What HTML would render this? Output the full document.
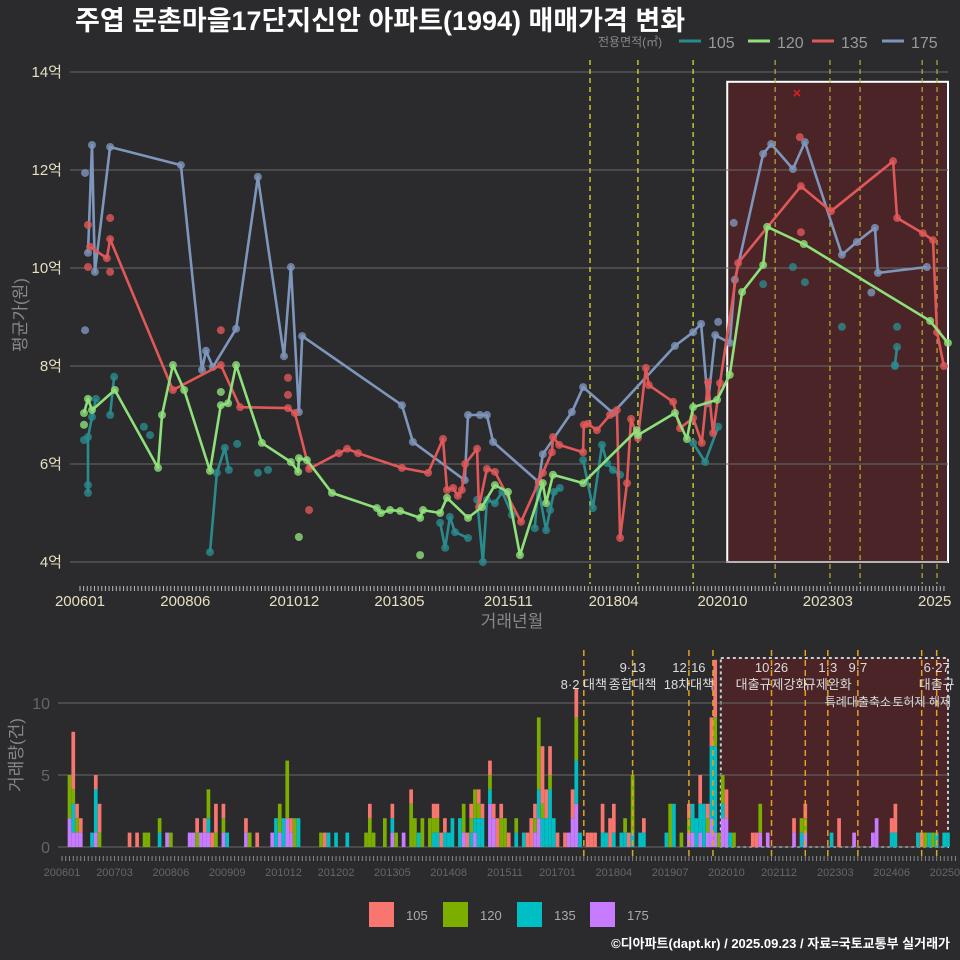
<!DOCTYPE html>
<html><head><meta charset="utf-8">
<style>
html,body{margin:0;padding:0;background:#2b2b2d;}
svg{display:block;font-family:"Liberation Sans","Noto Sans CJK KR",sans-serif;}
</style></head>
<body>
<svg id="chart" width="960" height="960" viewBox="0 0 960 960">
<rect x="0" y="0" width="960" height="960" fill="#2b2b2d"/>
<text x="75" y="30" font-size="27" font-weight="bold" fill="#ffffff">주엽 문촌마을17단지신안 아파트(1994) 매매가격 변화</text>
<g id="topLegend">
<text x="598" y="46" font-size="12" fill="#888">전용면적(㎡)</text>
</g>
<g id="topPanel"></g>
<g id="bottomPanel"></g>
<text transform="translate(26,315) rotate(-90)" text-anchor="middle" font-size="17" fill="#888">평균가(원)</text>
<text x="512" y="627" text-anchor="middle" font-size="17" fill="#888">거래년월</text>
<text transform="translate(22,755) rotate(-90)" text-anchor="middle" font-size="17" fill="#888">거래량(건)</text>
<g id="botLegend"></g>
<text x="950" y="948" text-anchor="end" font-size="13" font-weight="bold" fill="#ffffff">©디아파트(dapt.kr) / 2025.09.23 / 자료=국토교통부 실거래가</text>
</svg>
<script>
const m175 = [2.2,3.3,4.1,8.3,27.8,33.6,34.7,36.6,43,49,56.2,58.1,60.3,61.2,88.7,91.7,106,106.9,110.2,112.1,113.8,126.4,127.5,135.5,138.6,146.8,163.9,168.9,171.1,173,175,179,180.4,188.2,190.4,196.4,199.7,209.9,214,219,219.8,233.3];
const v175 = [10.31,12.51,9.92,12.47,12.10,7.92,8.31,7.98,8.76,11.86,8.20,10.02,7.06,8.61,7.20,6.45,5.67,7.00,7.00,7.00,6.45,5.63,6.20,7.06,7.57,7.04,8.41,8.69,8.86,7.24,8.63,8.47,9.76,12.33,12.53,12.02,12.57,10.27,10.53,10.82,9.90,10.02];
const m135 = [2.8,7.4,8.3,25.6,38.8,44.1,57.3,59.2,63.1,71.3,73.6,76.6,88.7,95.9,100,101.1,102.8,104.1,105.2,106.1,109.4,109.9,112.1,114.3,121.5,126.4,127.5,130,130.3,132,138.6,138.8,139.9,142.4,146,147.9,148.8,150.7,151.8,153.7,155.9,156.7,163.4,165.3,168.9,171.3,173,174.4,176.3,181.3,198.6,206.9,224,225.1,232.2,235,236.1,238];
const v135 = [10.43,10.20,10.59,7.51,8.02,7.16,7.14,7.04,5.90,6.22,6.31,6.22,5.92,5.82,6.51,5.47,5.51,5.35,5.47,6.00,6.31,5.12,5.90,5.84,4.82,5.63,5.82,6.24,6.55,6.39,6.24,6.80,6.82,6.69,7.00,7.10,4.49,5.61,6.92,6.53,7.96,7.61,7.27,6.73,6.94,6.43,7.67,6.63,7.65,10.10,11.67,11.16,12.18,11.02,10.71,10.57,8.69,8.00];
const m120 = [1.1,2.2,3.3,9.6,21.5,22.6,25.6,28.7,35.8,38.8,40.8,43,50.1,58.1,60.1,60.3,62.5,69.4,81.8,82.9,85.4,88.2,93.7,94.5,99.2,101.1,106.9,110.7,114.3,117.9,121.2,127.5,128.4,130.3,138.6,153.4,153.7,163.9,167.2,168.9,175.5,179,182.4,188.2,189.3,199.4,234.2,239.1];
const v120 = [7.04,7.33,7.10,7.51,5.92,7.00,8.02,7.51,5.86,7.20,7.24,8.02,6.43,6.04,5.84,6.12,6.08,5.41,5.10,5.00,5.06,5.04,4.90,5.06,5.00,5.31,4.90,5.12,5.57,5.43,4.14,5.61,5.20,5.78,5.61,6.69,6.59,7.04,6.51,7.16,7.31,7.82,9.51,10.06,10.84,10.49,8.92,8.47];
const m105 = [2.2,2.2,3.3,4.4,null,8.3,9.4,null,35.8,37.7,39.9,41,null,99.2,100.6,101.9,103.3,106.9,null,109.4,111,112.1,114.3,116.3,119,null,125.3,126.2,128.4,129.5,130.6,132.2,null,138.6,141.3,143.8,145.2,146.8,148.8,null,168.9,172.2,175.8,null,224.5,225.1];
const v105 = [5.41,6.55,6.96,7.33,null,7.00,7.78,null,4.20,5.82,6.33,5.88,null,4.80,4.29,4.92,4.61,4.49,null,5.27,4.00,5.27,5.20,5.43,4.96,null,4.69,5.53,4.65,5.06,5.43,5.51,null,6.08,5.10,6.39,6.02,5.88,5.78,null,6.43,6.04,6.76,null,8.02,8.39];
const pm175 = [1.4,1.4,180.1,175.8,218];
const pv175 = [11.94,8.73,10.92,8.90,9.50];
const pm135 = [2.2,2.2,8.3,8.3,38.8,57.3,57.3,63.1,198.6,198.3];
const pv135 = [10.88,10.02,11.02,9.92,8.73,7.76,7.41,5.06,10.73,12.67];
const pm120 = [1.1,38.8,60.3,93.7];
const pv120 = [6.80,7.47,4.51,4.14];
const pm105 = [1.1,2.2,17.6,19.3,49,51.8,43.3,196.4,199.7,209.9,225.1,188.2,224.5];
const pv105 = [6.49,5.57,6.76,6.59,5.82,5.88,6.41,10.02,9.71,8.80,8.80,9.67,8.0];
const outlierM = [197.5];
const outlierV = [13.57];
const yTicks = [4,6,8,10,12,14];
const yTickLabels = ['4억','6억','8억','10억','12억','14억'];
const xTickMonths = [0,29,59,88,118,147,177,206];
const xTickLabels = ['200601','200806','201012','201305','201511','201804','202010','202303'];
const topEventMonths = [140.5,153.7,168.9,191.5,206.6,214.9,232,236.1];
const barMonth = [2,3,4,5,8,9,10,18,20,22,23,26,28,29,34,35,36,37,38,39,40,41,43,44,49,50,52,56,57,58,59,60,61,62,63,69,70,71,73,76,81,82,83,86,88,89,91,93,94,95,96,98,99,100,101,102,103,104,106,107,108,109,110,111,112,114,115,116,117,118,119,121,123,124,125,126,127,128,129,130,131,132,134,135,136,137,138,140,141,142,144,145,146,147,149,150,151,152,154,155,161,162,163,165,167,168,169,170,171,172,173,174,175,176,177,178,179,184,185,186,188,195,197,198,205,207,211,216,217,221,222,228,229,230,231,232,233,235,236];
const cnt105 = [0,4,1,1,0,1,2,1,1,0,0,0,0,0,0,0,1,0,1,0,1,2,1,0,1,0,1,0,0,0,0,0,1,0,0,0,1,0,0,0,0,1,0,0,1,0,0,1,0,0,0,0,1,1,1,1,0,0,0,0,1,1,0,1,1,1,1,2,1,0,1,0,0,1,2,1,0,4,2,2,0,1,1,0,2,2,0,1,1,1,2,0,2,2,0,0,1,0,0,1,0,0,0,0,1,0,0,2,0,1,2,4,0,0,2,0,0,1,1,0,0,1,0,1,0,2,0,0,0,1,2,0,1,0,0,0,0,0,0];
const cnt120 = [3,1,1,0,0,0,1,0,0,1,1,1,0,1,0,0,1,0,0,2,0,1,1,0,0,1,0,0,0,2,0,4,0,2,0,1,0,0,0,0,1,2,1,2,0,1,0,3,2,0,2,2,1,1,0,0,0,0,0,2,0,1,2,1,0,1,0,0,2,2,0,1,0,0,0,1,5,1,0,1,0,0,0,0,0,3,0,0,0,0,0,0,0,0,0,1,0,4,0,0,0,3,0,1,1,0,0,0,0,1,0,2,1,2,0,0,1,0,0,2,0,0,1,1,0,0,0,0,0,0,0,0,0,1,0,1,0,0,0];
const cnt135 = [0,2,0,0,1,3,0,0,0,0,0,1,0,0,0,0,0,0,0,1,0,0,0,1,0,0,0,0,2,0,2,0,0,0,2,0,0,1,1,1,0,0,0,0,1,0,0,0,0,1,0,0,1,1,0,1,1,2,2,0,0,1,1,2,2,1,0,0,0,0,0,1,1,0,0,0,2,2,2,4,2,0,0,0,0,3,1,0,0,0,1,1,0,1,1,1,0,1,1,1,1,0,3,0,0,2,2,2,3,0,5,6,0,1,0,1,0,0,0,0,0,0,1,0,1,0,0,0,0,1,1,1,0,0,1,0,1,1,1];
const cnt175 = [2,1,1,1,0,1,0,0,0,0,0,0,1,0,1,1,0,1,1,1,0,0,1,0,1,0,0,1,0,1,0,2,1,0,0,0,0,0,0,0,0,0,0,0,1,0,1,0,0,0,0,0,0,0,0,0,0,0,0,1,0,0,1,0,0,3,2,0,0,0,0,0,0,0,0,1,2,0,0,0,0,0,0,1,2,3,0,0,0,0,0,0,0,0,0,0,0,0,0,0,0,0,0,0,1,1,0,1,0,1,2,1,0,2,2,0,0,0,0,1,1,1,0,1,0,0,1,1,2,0,0,0,0,0,0,0,0,0,0];
const volTicks = [0,5,10];
const botTickMonths = [0,14,29,44,59,73,88,103,118,132,147,162,177,191,206,221,236];
const botTickLabels = ['200601','200703','200806','200909','201012','201202','201305','201408','201511','201701','201804','201907','202010','202112','202303','202406','202509'];
const botEventMonths = [139,152,167,173.4,189,198,204,212,229,233];
const annoMonths = [139,152,152,167,167,189,189,204,204,212,212,233,233,229];
const annoRows = [1,0,1,0,1,0,1,0,1,0,2,0,1,2];
const annoTexts = ['8·2 대책','9·13','종합대책','12·16','18차대책','10·26','대출규제강화','1·3','규제완화','9·7','특례대출축소','6·27','대출규','토허제 해제'];

const areas = ['105','120','135','175'];
const lineColors = {'105':'#2a8a8c','120':'#8fe07a','135':'#e05858','175':'#7e96bb'};
const barColors = {'105':'#f8766d','120':'#7cae00','135':'#00bfc4','175':'#c77cff'};

const NS='http://www.w3.org/2000/svg';
function mk(tag, attrs, parent){const e=document.createElementNS(NS,tag);for(const k in attrs)e.setAttribute(k,attrs[k]);parent.appendChild(e);return e;}
const X = m => 80 + m*3.63;
const Y = v => 562 - (v-4)*49;
const XB = m => 62 + m*3.754;
const YB = c => 847 - c*14.4;

const topG = document.getElementById('topPanel');
const botG = document.getElementById('bottomPanel');

let hb = mk('rect',{x:X(178.3),y:Y(13.8),width:948-X(178.3),height:Y(4)-Y(13.8),fill:'#4a2426',stroke:'#ffffff','stroke-width':2},topG);


yTicks.forEach((t,i)=>{
  let g = mk('line',{x1:70,x2:948,y1:Y(t),y2:Y(t),stroke:'#6a6a6a','stroke-width':1},topG);
  
  
  let tl = mk('text',{x:62,y:Y(t)+5,'text-anchor':'end','font-size':15,fill:'#e6dfc0'},topG);
  tl.textContent = yTickLabels[i];
  
  
});
topEventMonths.forEach((m,i)=>{
  let l = mk('line',{x1:X(m),x2:X(m),y1:60,y2:584,stroke:i>=3?'#b8b030':'#e8e838','stroke-width':1.2,'stroke-dasharray':'5,4'},topG);
  
  
});
for(let m=0;m<=238;m++){
  let t = mk('line',{x1:X(m),x2:X(m),y1:586,y2:591,stroke:'#bbb','stroke-width':1},topG);
  
  
}
xTickMonths.forEach((m,i)=>{
  let t = mk('text',{x:X(m),y:606,'text-anchor':'middle','font-size':15,fill:'#e6dfc0'},topG);
  t.textContent = xTickLabels[i];
  
  
});
let lastLbl = mk('text',{x:918,y:606,'font-size':15,fill:'#e6dfc0'},topG);
lastLbl.textContent='2025';



const series = {
  '105':[m105,v105,pm105,pv105],
  '120':[m120,v120,pm120,pv120],
  '135':[m135,v135,pm135,pv135],
  '175':[m175,v175,pm175,pv175]
};
['105','175','135','120'].forEach(a=>{
  const [ms,vs,pms,pvs] = series[a];
  const col = lineColors[a];
  const allM = ms.concat(pms), allV = vs.concat(pvs);
  allM.forEach((m,i)=>{
    if(m===null) return;
    let c = mk('circle',{cx:X(m),cy:Y(allV[i]),r:4,fill:col,'fill-opacity':0.8},topG);
    
    
  });
  let d='', pen=false;
  ms.forEach((m,i)=>{
    if(m===null){pen=false;return;}
    d += (pen?'L':'M')+X(m).toFixed(1)+','+Y(vs[i]).toFixed(1);
    pen=true;
  });
  let p = mk('path',{d:d,fill:'none',stroke:col,'stroke-width':2.6,'stroke-linejoin':'round'},topG);
  
  
});
outlierM.forEach((m,i)=>{
  let x=X(m), y=Y(outlierV[i]);
  let o = mk('path',{d:`M${x-3},${y-3}L${x+3},${y+3}M${x-3},${y+3}L${x+3},${y-3}`,stroke:'#e02020','stroke-width':1.5},topG);
  
  
});

const tlg = document.getElementById('topLegend');
const legX = [679,748,812,882];
areas.forEach((a,i)=>{
  let l = mk('line',{x1:legX[i],x2:legX[i]+22,y1:41,y2:41,stroke:lineColors[a],'stroke-width':3},tlg);
  
  
  let t = mk('text',{x:legX[i]+29,y:48,'font-size':16,fill:'#999'},tlg);
  t.textContent=a;
  
  
});

let bb = mk('rect',{x:XB(175.5),y:658,width:948-XB(175.5),height:847-658,fill:'#4a2426',stroke:'#cccccc','stroke-width':2,'stroke-dasharray':'3,3'},botG);


volTicks.forEach(t=>{
  let g = mk('line',{x1:58,x2:948,y1:YB(t),y2:YB(t),stroke:'#5e5e5e','stroke-width':1.2},botG);
  
  
  let tx = mk('text',{x:50,y:YB(t)+6,'text-anchor':'end','font-size':16,fill:'#666'},botG);
  tx.textContent=t;
  
  
});
barMonth.forEach((m,i)=>{
  const stack=[['175',cnt175[i]],['135',cnt135[i]],['120',cnt120[i]],['105',cnt105[i]]];
  let base=0;
  stack.forEach(([a,c])=>{
    if(!c) return;
    let r = mk('rect',{x:XB(m)-1.85,y:YB(base+c),width:3.7,height:c*14.4,fill:barColors[a]},botG);
    
    
    base+=c;
  });
});
botEventMonths.forEach(m=>{
  let l = mk('line',{x1:XB(m),x2:XB(m),y1:650,y2:858,stroke:'#e8a020','stroke-width':1.5,'stroke-dasharray':'6,4'},botG);
  
  
});
annoTexts.forEach((s,i)=>{
  let t = mk('text',{x:XB(annoMonths[i]),y:672+annoRows[i]*17,'text-anchor':'middle','font-size':annoRows[i]===2?12:13,fill:'#dddddd'},botG);
  t.textContent=s;
  
  
});
for(let m=0;m<=238;m++){
  let t = mk('line',{x1:XB(m),x2:XB(m),y1:856,y2:861,stroke:'#888','stroke-width':1},botG);
  
  
}
botTickMonths.forEach((m,i)=>{
  let t = mk('text',{x:XB(m),y:876,'text-anchor':'middle','font-size':11,fill:'#666'},botG);
  t.textContent=botTickLabels[i];
  
  
});

const blg = document.getElementById('botLegend');
const blX = [369,443,517,590];
areas.forEach((a,i)=>{
  let r = mk('rect',{x:blX[i],y:902,width:25,height:25,fill:barColors[a]},blg);
  
  
  let t = mk('text',{x:blX[i]+37,y:920,'font-size':13,fill:'#aaa'},blg);
  t.textContent=a;
  
  
});
</script>
</body></html>
